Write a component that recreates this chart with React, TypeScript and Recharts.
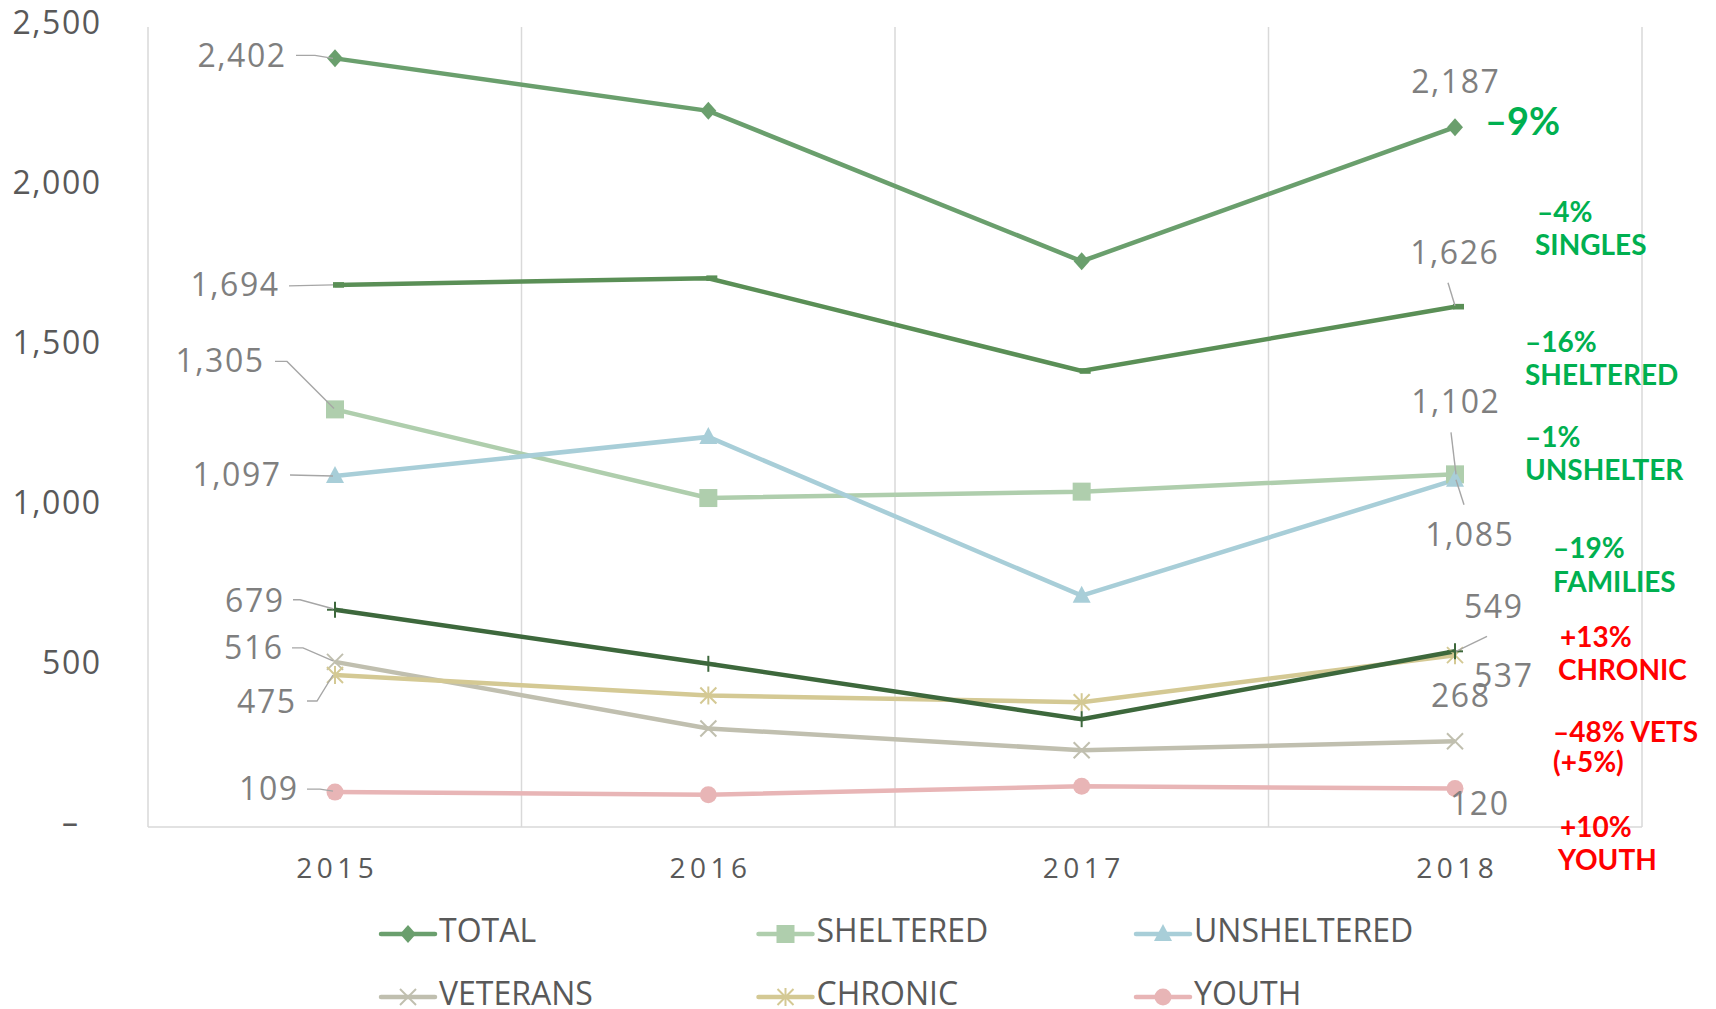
import React from 'react';
import { LineChart, Line, XAxis, YAxis, CartesianGrid, Legend, LabelList } from 'recharts';

// ---------- data ----------
const years = ['2015', '2016', '2017', '2018'];
const total = [2402, 2238, 1768, 2187];
const singles = [1694, 1715, 1425, 1626];
const sheltered = [1305, 1028, 1048, 1102];
const unsheltered = [1097, 1219, 723, 1085];
const families = [679, 510, 337, 549];
const veterans = [516, 308, 240, 268];
const chronic = [475, 411, 390, 537];
const youth = [109, 101, 127, 120];
const yTicks = [0, 500, 1000, 1500, 2000, 2500];
const seriesNames = ['TOTAL', 'SHELTERED', 'UNSHELTERED', 'VETERANS', 'CHRONIC', 'YOUTH', 'SINGLES', 'FAMILIES'];
const annotationTexts = ['–9%', '–4%', 'SINGLES', '–16%', 'SHELTERED', '–1%', 'UNSHELTER', '–19%', 'FAMILIES', '+13%', 'CHRONIC', '–48% VETS', '(+5%)', '+10%', 'YOUTH'];

const data = years.map((year, i) => ({
  year,
  total: total[i],
  singles: singles[i],
  sheltered: sheltered[i],
  unsheltered: unsheltered[i],
  families: families[i],
  veterans: veterans[i],
  chronic: chronic[i],
  youth: youth[i],
}));

// ---------- styles ----------
const NUM_FONT = "'Open Sans', 'Noto Sans', sans-serif";
const ANN_FONT = "Lato, 'Open Sans', sans-serif";
const GREEN = '#00B050';
const RED = '#FF0000';

type MarkerType = 'diamond' | 'square' | 'triangle' | 'x' | 'asterisk' | 'circle' | 'dash' | 'plus';

const series: { key: string; name: string; color: string; marker: MarkerType; legend: boolean }[] = [
  { key: 'total', name: seriesNames[0], color: '#6A9F6D', marker: 'diamond', legend: true },
  { key: 'sheltered', name: seriesNames[1], color: '#AFCEAD', marker: 'square', legend: true },
  { key: 'unsheltered', name: seriesNames[2], color: '#A8CED8', marker: 'triangle', legend: true },
  { key: 'veterans', name: seriesNames[3], color: '#C0BFAF', marker: 'x', legend: true },
  { key: 'chronic', name: seriesNames[4], color: '#D4C994', marker: 'asterisk', legend: true },
  { key: 'youth', name: seriesNames[5], color: '#E8B5B6', marker: 'circle', legend: true },
  { key: 'singles', name: seriesNames[6], color: '#5A8F56', marker: 'dash', legend: false },
  { key: 'families', name: seriesNames[7], color: '#3D683C', marker: 'plus', legend: false },
];

type LabelPos = { dx: number; dy: number; anchor: 'start' | 'middle' | 'end'; leader?: number[][] };
const labelPos: Record<string, [LabelPos, LabelPos]> = {
  total: [
    { dx: -50, dy: 8.5, anchor: 'end', leader: [[-39, -3], [-20, -3], [-2, 0]] },
    { dx: 0, dy: -34.5, anchor: 'middle' },
  ],
  singles: [
    { dx: -57, dy: 11.5, anchor: 'end', leader: [[-46, 1], [-2, 0]] },
    { dx: -1, dy: -43, anchor: 'middle', leader: [[-7, -24], [0, -1]] },
  ],
  sheltered: [
    { dx: -72, dy: -37, anchor: 'end', leader: [[-60, -48], [-48, -48], [-1, -1]] },
    { dx: 0, dy: -61, anchor: 'middle', leader: [[-4, -42], [1, 0]] },
  ],
  unsheltered: [
    { dx: -55, dy: 10.5, anchor: 'end', leader: [[-45, -1], [-2, 0]] },
    { dx: 14, dy: 65.7, anchor: 'middle', leader: [[1, 0], [9, 25]] },
  ],
  families: [
    { dx: -52, dy: 1.8, anchor: 'end', leader: [[-42, -10], [-35, -10], [-2, -1]] },
    { dx: 38, dy: -33.8, anchor: 'middle', leader: [[32, -15], [1, 0]] },
  ],
  veterans: [
    { dx: -53, dy: -2.4, anchor: 'end', leader: [[-43, -14], [-32, -14], [-2, -1]] },
    { dx: 5, dy: -34.7, anchor: 'middle' },
  ],
  chronic: [
    { dx: -40, dy: 37.5, anchor: 'end', leader: [[-28, 26], [-18, 26], [-2, 0]] },
    { dx: 48, dy: 32.3, anchor: 'middle' },
  ],
  youth: [
    { dx: -38, dy: 7.5, anchor: 'end', leader: [[-28, -3], [-15, -3], [-2, -1]] },
    { dx: 24, dy: 26, anchor: 'middle' },
  ],
};

// annotation placement (left x, baseline y, size, color)
const annotationStyle = [
  { x: 1485, y: 135, size: 38, color: GREEN },
  { x: 1537, y: 222, size: 28, color: GREEN },
  { x: 1535, y: 255, size: 28, color: GREEN },
  { x: 1525, y: 352, size: 28, color: GREEN },
  { x: 1525, y: 385, size: 28, color: GREEN },
  { x: 1525, y: 447, size: 28, color: GREEN },
  { x: 1525, y: 480, size: 28, color: GREEN },
  { x: 1553, y: 558, size: 28, color: GREEN },
  { x: 1553, y: 592, size: 28, color: GREEN },
  { x: 1560, y: 647, size: 28, color: RED },
  { x: 1558, y: 680, size: 28, color: RED },
  { x: 1553, y: 742, size: 28, color: RED },
  { x: 1553, y: 772, size: 28, color: RED },
  { x: 1560, y: 837, size: 28, color: RED },
  { x: 1558, y: 870, size: 28, color: RED },
];

// ---------- markers ----------
function Marker({ type, cx, cy, color }: { type: MarkerType; cx: number; cy: number; color: string }) {
  if (cx == null || cy == null || isNaN(cx) || isNaN(cy)) return null;
  switch (type) {
    case 'diamond':
      return <polygon points={`${cx},${cy - 9} ${cx + 8},${cy} ${cx},${cy + 9} ${cx - 8},${cy}`} fill={color} />;
    case 'square':
      return <rect x={cx - 9} y={cy - 9} width={18} height={18} fill={color} />;
    case 'triangle':
      return <polygon points={`${cx},${cy - 10} ${cx + 9},${cy + 7} ${cx - 9},${cy + 7}`} fill={color} />;
    case 'circle':
      return <circle cx={cx} cy={cy} r={8.5} fill={color} />;
    case 'x':
      return (
        <g stroke={color} strokeWidth={2}>
          <line x1={cx - 8} y1={cy - 8} x2={cx + 8} y2={cy + 8} />
          <line x1={cx - 8} y1={cy + 8} x2={cx + 8} y2={cy - 8} />
        </g>
      );
    case 'asterisk':
      return (
        <g stroke={color} strokeWidth={2}>
          <line x1={cx - 8} y1={cy - 8} x2={cx + 8} y2={cy + 8} />
          <line x1={cx - 8} y1={cy + 8} x2={cx + 8} y2={cy - 8} />
          <line x1={cx} y1={cy - 9} x2={cx} y2={cy + 9} />
        </g>
      );
    case 'plus':
      return (
        <g stroke={color} strokeWidth={2}>
          <line x1={cx} y1={cy - 8} x2={cx} y2={cy + 8} />
          <line x1={cx - 8} y1={cy} x2={cx + 8} y2={cy} />
        </g>
      );
    case 'dash':
      return <rect x={cx - 2} y={cy - 2.8} width={11} height={5.6} fill={color} />;
    default:
      return null;
  }
}

// ---------- ticks ----------
const YTick = (props: any) => {
  const { x, y, payload } = props;
  const v = payload.value as number;
  const isZero = v === 0;
  return (
    <text
      x={x + 1.5 - (isZero ? 22 : 0)}
      y={y}
      dy={7}
      textAnchor="end"
      fill="#595959"
      fontSize={32}
      fontFamily={NUM_FONT}
      letterSpacing={1.5}
    >
      {isZero ? '–' : v.toLocaleString('en-US')}
    </text>
  );
};

const XTick = (props: any) => {
  const { x, y, payload } = props;
  return (
    <text x={x + 2.2} y={y} dy={51} textAnchor="middle" fill="#595959" fontSize={28} fontFamily={NUM_FONT} letterSpacing={4.5}>
      {payload.value}
    </text>
  );
};

// ---------- labels ----------
function makeLabel(key: string) {
  return (p: any) => {
    const idx = p.index;
    const last = data.length - 1;
    if (idx !== 0 && idx !== last) return null;
    const px = p.x ?? p.viewBox?.x;
    const py = p.y ?? p.viewBox?.y;
    if (px == null || py == null) return null;
    const cfg = labelPos[key][idx === 0 ? 0 : 1];
    const comp = cfg.anchor === 'end' ? 1.5 : cfg.anchor === 'middle' ? 0.75 : 0;
    return (
      <g key={`lbl-${key}-${idx}`}>
        {cfg.leader && (
          <polyline
            points={cfg.leader.map(([a, b]) => `${px + a},${py + b}`).join(' ')}
            fill="none"
            stroke="#A6A6A6"
            strokeWidth={1.4}
          />
        )}
        <text
          x={px + cfg.dx + comp}
          y={py + cfg.dy}
          textAnchor={cfg.anchor}
          fill="#7F7F7F"
          fontSize={32}
          fontFamily={NUM_FONT}
          letterSpacing={1.5}
        >
          {Number(p.value).toLocaleString('en-US')}
        </text>
      </g>
    );
  };
}

// ---------- legend ----------
const renderLegend = (props: any) => {
  const payload = props.payload || [];
  const items = series
    .filter((s) => s.legend)
    .map((s) => ({ s, it: payload.find((p: any) => p.value === s.name || p.dataKey === s.key) }))
    .filter((o) => o.it);
  return (
    <svg width={1716} height={1009} style={{ position: 'absolute', left: 0, top: 0 }}>
      {items.map(({ s, it }: any, i: number) => {
        const col = i % 3;
        const row = Math.floor(i / 3);
        const lx = 381 + col * 377.5;
        const ly = 934 + row * 63;
        return (
          <g key={s.key}>
            <line x1={lx} y1={ly} x2={lx + 54} y2={ly} stroke={s.color} strokeWidth={4.5} strokeLinecap="round" />
            <Marker type={s.marker} cx={lx + 27} cy={ly} color={s.color} />
            <text x={lx + 58} y={ly + 8} fill="#595959" fontSize={32} fontFamily={NUM_FONT}>
              {it.value}
            </text>
          </g>
        );
      })}
    </svg>
  );
};

export default function App() {
  return (
    <div style={{ position: 'absolute', left: 0, top: 0, width: 1716, height: 1009, overflow: 'hidden', background: '#fff' }}>
      <LineChart width={1716} height={1009} data={data} margin={{ top: 27, right: 74, bottom: 152, left: 48 }}>
        <CartesianGrid
          horizontal={false}
          stroke="#D9D9D9"
          strokeWidth={1.5}
          verticalCoordinatesGenerator={(args: any) => {
            const o = args.offset;
            return [0, 1, 2, 3, 4].map((i) => o.left + (o.width * i) / 4);
          }}
        />
        <XAxis
          dataKey="year"
          height={30}
          padding={{ left: 187, right: 187 }}
          axisLine={{ stroke: '#D9D9D9', strokeWidth: 1.5 }}
          tickLine={false}
          tickSize={0}
          tickMargin={0}
          tick={<XTick />}
          interval={0}
        />
        <YAxis
          width={100}
          domain={[0, 2500]}
          ticks={yTicks}
          interval={0}
          axisLine={false}
          tickLine={false}
          tickSize={0}
          tickMargin={48}
          tick={<YTick />}
        />
        {series.map((s) => (
          <Line
            key={s.key}
            dataKey={s.key}
            name={s.name}
            stroke={s.color}
            strokeWidth={4.5}
            isAnimationActive={false}
            legendType={s.legend ? 'line' : 'none'}
            activeDot={false}
            dot={(p: any) => <Marker key={`${s.key}-${p.index}`} type={s.marker} cx={p.cx} cy={p.cy} color={s.color} />}
          >
            <LabelList dataKey={s.key} content={makeLabel(s.key)} />
          </Line>
        ))}
        <Legend
          layout="horizontal"
          verticalAlign="middle"
          align="center"
          content={renderLegend}
          wrapperStyle={{ left: 0, top: 0, width: 1716, height: 1009, pointerEvents: 'none' }}
        />
      </LineChart>
      <svg width={1716} height={1009} style={{ position: 'absolute', left: 0, top: 0, pointerEvents: 'none' }}>
        {annotationTexts.map((t, i) => {
          const st = annotationStyle[i];
          return (
            <text key={i} x={st.x} y={st.y} fill={st.color} fontSize={st.size} fontWeight={700} fontFamily={ANN_FONT}>
              {t}
            </text>
          );
        })}
      </svg>
    </div>
  );
}
